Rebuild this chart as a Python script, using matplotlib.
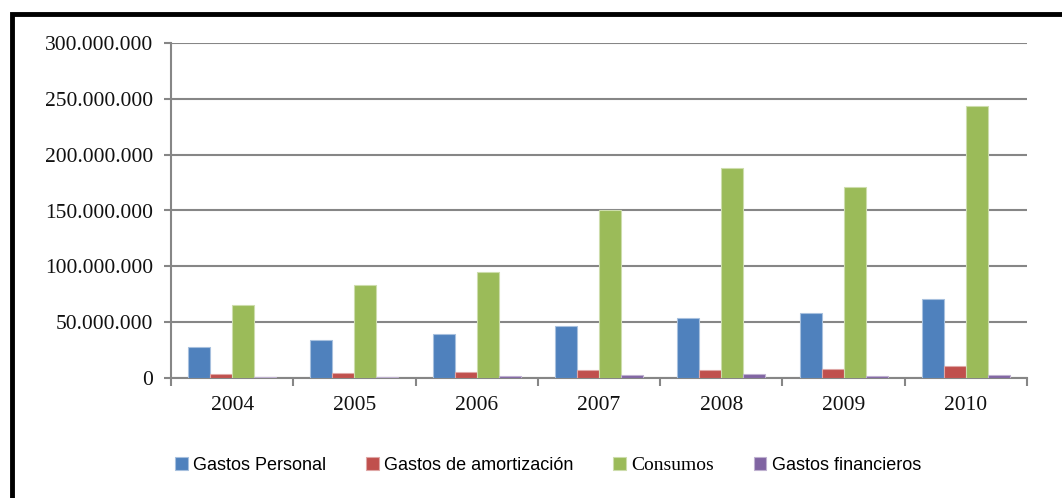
import matplotlib
matplotlib.use("Agg")
import matplotlib.pyplot as plt
from matplotlib.patches import Rectangle
from matplotlib.ticker import FuncFormatter
import numpy as np

years = ["2004", "2005", "2006", "2007", "2008", "2009", "2010"]
series_names = ["Gastos Personal", "Gastos de amortización", "Consumos", "Gastos financieros"]
gastos_personal = [28.0e6, 34.0e6, 39.0e6, 47.0e6, 53.5e6, 58.5e6, 71.0e6]
gastos_amortizacion = [4.0e6, 4.8e6, 5.7e6, 6.9e6, 7.2e6, 8.1e6, 10.5e6]
consumos = [65.5e6, 83.0e6, 95.0e6, 150.0e6, 188.5e6, 171.0e6, 243.5e6]
gastos_financieros = [0.9e6, 1.2e6, 1.8e6, 2.7e6, 3.3e6, 2.1e6, 2.7e6]
colors = ["#4F81BD", "#C0504D", "#9BBB59", "#8064A2"]
edge_colors = ["#A7C0DE", "#DFA7A6", "#CDDDAC", "#BFB1D0"]

fig = plt.figure(figsize=(10.62, 4.98), dpi=100)
ax = fig.add_axes([171 / 1062, 1 - 378 / 498, (1027 - 171) / 1062, (378 - 43) / 498])

x = np.arange(len(years))
w = 0.18
data = [gastos_personal, gastos_amortizacion, consumos, gastos_financieros]
for i, vals in enumerate(data):
    ax.bar(x + (i - 1.5) * w, vals, width=w, color=colors[i], edgecolor=edge_colors[i],
           linewidth=0.8, label=series_names[i], zorder=3)

ax.set_xlim(-0.5, len(years) - 0.5)
ax.set_ylim(0, 300e6)
ax.set_yticks(np.arange(0, 300e6 + 1, 50e6))
ax.yaxis.set_major_formatter(FuncFormatter(lambda v, p: f"{int(v):,}".replace(",", ".")))
ax.set_xticks(x)
ax.set_xticklabels(years)
ax.set_xticks(np.arange(-0.5, len(years)), minor=True)
ax.tick_params(axis="x", which="major", length=0, pad=13)
ax.tick_params(axis="x", which="minor", length=6, color="#868686", width=1.5)
ax.tick_params(axis="y", length=5, color="#868686", width=1.5, pad=8)
for lab in ax.get_xticklabels() + ax.get_yticklabels():
    lab.set_fontfamily("Liberation Serif")
    lab.set_fontsize(15.5)
    lab.set_color("#111111")

ax.grid(axis="y", color="#868686", linewidth=1.5, zorder=0)
for s in ["top", "right"]:
    ax.spines[s].set_visible(False)
for s in ["left", "bottom"]:
    ax.spines[s].set_color("#868686")
    ax.spines[s].set_linewidth(1.5)

leg = fig.legend(loc="center", bbox_to_anchor=(0.516, 1 - 465 / 498), ncol=4, frameon=False,
                 handlelength=0.7, handleheight=0.7, handletextpad=0.3, columnspacing=2.2,
                 prop={"family": "Liberation Sans", "size": 13})
leg.get_texts()[2].set_fontfamily("Liberation Serif")
leg.get_texts()[2].set_fontsize(14)

# black frame (top and left edges visible)
fig.patches.append(Rectangle((11.5 / 1062, -0.1), 1.2, 1.1 - 14 / 498,
                             transform=fig.transFigure, fill=False, edgecolor="black",
                             linewidth=3.5, zorder=10))

fig.savefig("out.png", dpi=100)
